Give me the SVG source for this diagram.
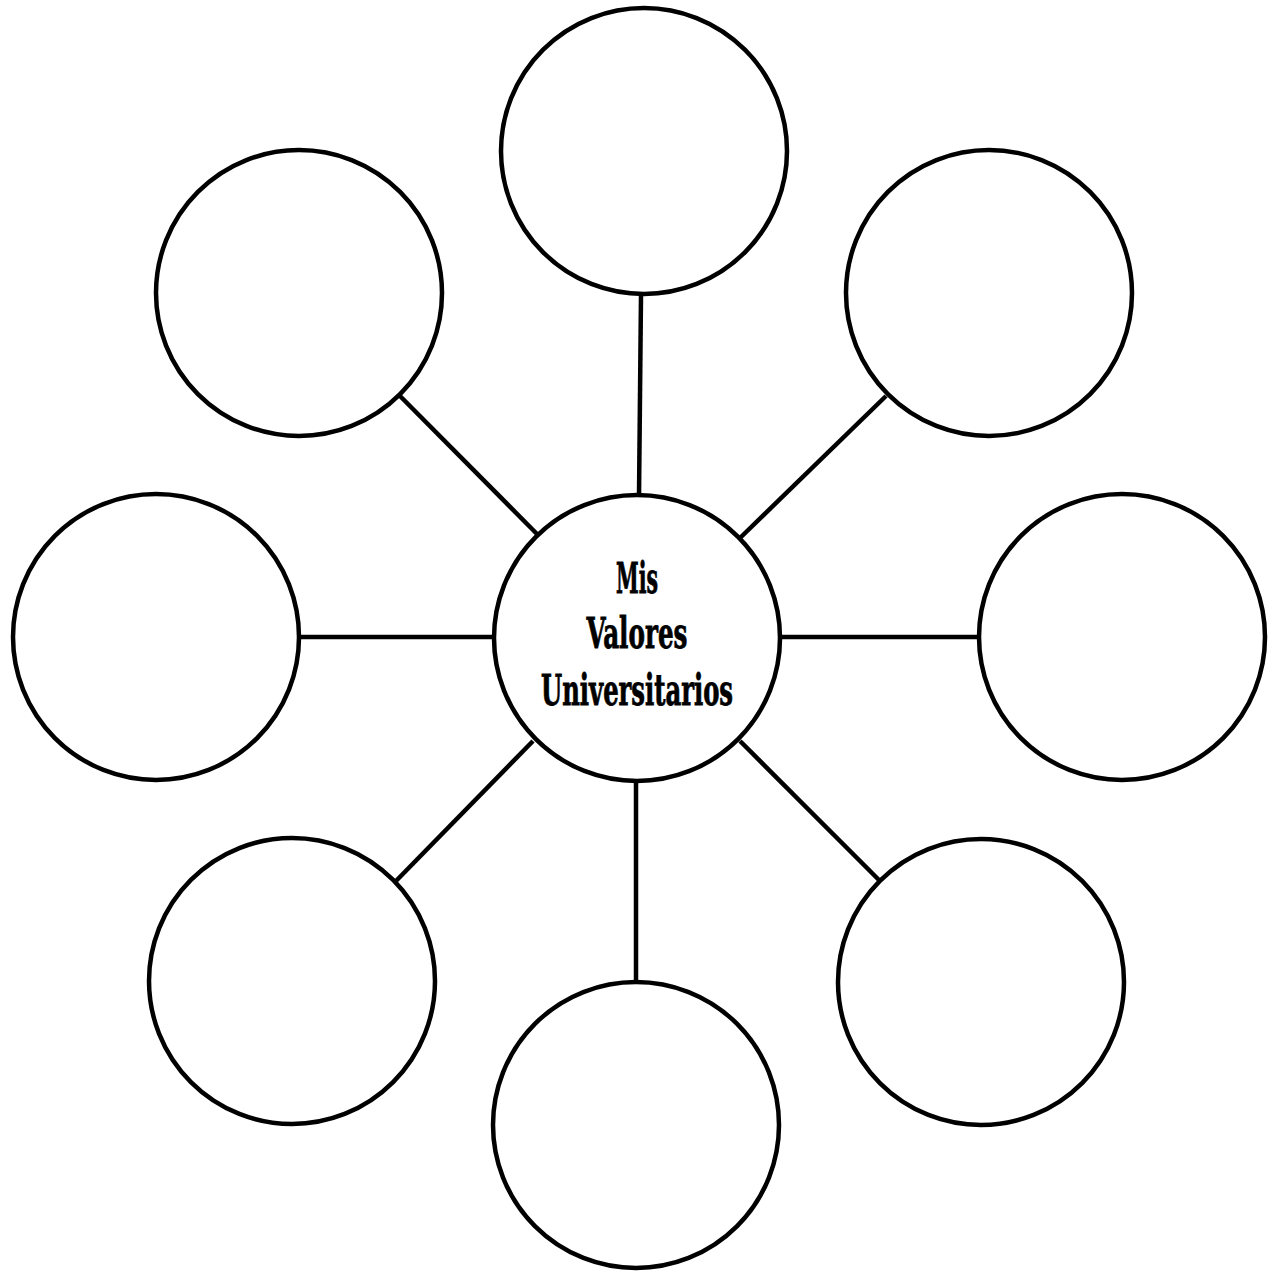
<svg xmlns="http://www.w3.org/2000/svg" width="1275" height="1272" viewBox="0 0 1275 1272">
<style>
.n{fill:#fff;stroke:#000;stroke-width:4.5}
.c line{stroke:#000;stroke-width:4.5}
.t{font-family:"DejaVu Serif Condensed","DejaVu Serif","Liberation Serif",serif;font-weight:bold;font-size:42px;fill:#000;stroke:#000;stroke-width:0.8;text-anchor:middle}
</style>
<rect width="1275" height="1272" fill="#fff"/>
<g class="c" id="connectors">
<line x1="641" y1="295" x2="639" y2="496"/>
<line x1="886" y1="396" x2="740" y2="538"/>
<line x1="781" y1="637" x2="980" y2="637"/>
<line x1="740" y1="741" x2="881" y2="882"/>
<line x1="636" y1="781" x2="636" y2="983"/>
<line x1="533" y1="741" x2="395" y2="882"/>
<line x1="299" y1="637" x2="494" y2="637"/>
<line x1="400" y1="396" x2="537" y2="534"/>
</g>
<g id="n-top"><circle class="n" cx="644" cy="151" r="143"/></g>
<g id="n-topright"><circle class="n" cx="989" cy="293" r="143"/></g>
<g id="n-right"><circle class="n" cx="1122" cy="637" r="143"/></g>
<g id="n-bottomright"><circle class="n" cx="981" cy="982" r="143"/></g>
<g id="n-bottom"><circle class="n" cx="636" cy="1125" r="143"/></g>
<g id="n-bottomleft"><circle class="n" cx="292" cy="981" r="143"/></g>
<g id="n-left"><circle class="n" cx="156" cy="637" r="143"/></g>
<g id="n-topleft"><circle class="n" cx="299" cy="293" r="143"/></g>
<g id="n-center">
<circle class="n" cx="637" cy="638" r="143"/>
<text class="t" x="637" y="593" textLength="42" lengthAdjust="spacingAndGlyphs">Mis</text>
<text class="t" x="637" y="648" textLength="101" lengthAdjust="spacingAndGlyphs">Valores</text>
<text class="t" x="637" y="705" textLength="192" lengthAdjust="spacingAndGlyphs">Universitarios</text>
</g>
</svg>
